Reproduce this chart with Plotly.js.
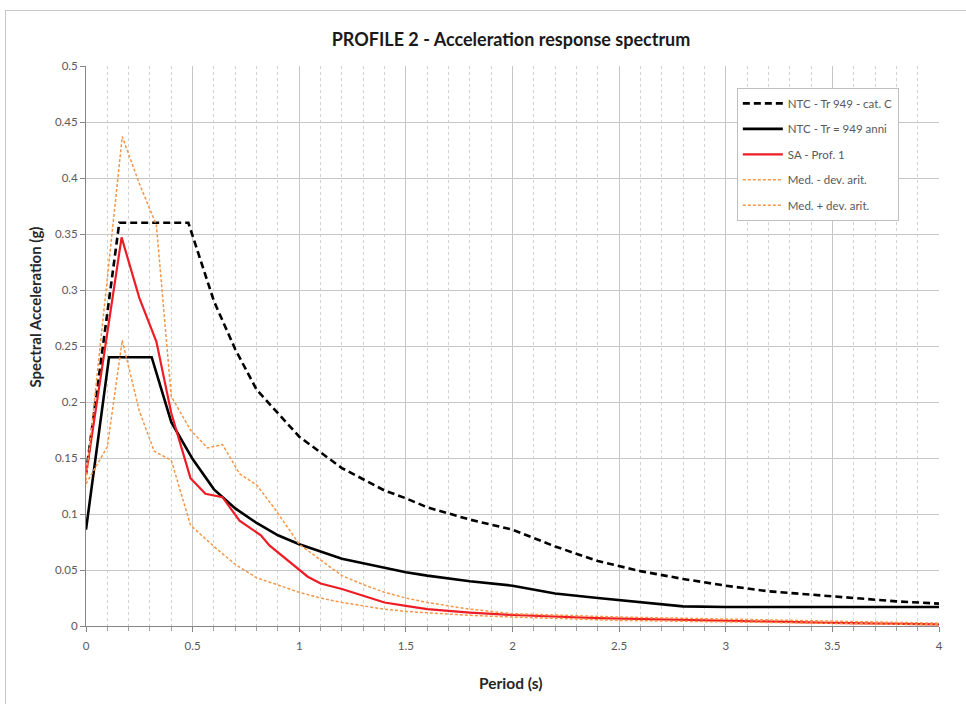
<!DOCTYPE html>
<html>
<head>
<meta charset="utf-8">
<script src="https://cdn.plot.ly/plotly-3.0.1.min.js"></script>
<style>
  html, body { margin:0; padding:0; background:#fff; }
  #chart { position:absolute; left:0; top:0; width:966px; height:704px; }
  #frame { position:absolute; left:5px; top:10px; width:1000px; height:800px; border:1px solid #c8c8c8; pointer-events:none; }
</style>
</head>
<body>
<div id="chart"></div>
<div id="frame"></div>
<script>
// ---- data ----
const ntcCatC_T = [0, 0.156, 0.48, 0.6, 0.7, 0.8, 0.9, 1.0, 1.2, 1.4, 1.5, 1.6, 1.8, 2.0, 2.2, 2.4, 2.6, 2.8, 3.0, 3.2, 3.4, 3.6, 3.8, 4.0];
const ntcCatC_Sa = [0.136, 0.36, 0.36, 0.29, 0.247, 0.211, 0.19, 0.169, 0.141, 0.121, 0.114, 0.106, 0.095, 0.086, 0.071, 0.058, 0.049, 0.042, 0.036, 0.031, 0.028, 0.025, 0.022, 0.020];

const ntc949_T = [0, 0.108, 0.308, 0.4, 0.5, 0.6, 0.7, 0.8, 0.9, 1.0, 1.2, 1.4, 1.5, 1.6, 1.8, 2.0, 2.2, 2.4, 2.6, 2.8, 3.0, 3.5, 4.0];
const ntc949_Sa = [0.086, 0.24, 0.24, 0.182, 0.149, 0.122, 0.105, 0.092, 0.081, 0.073, 0.060, 0.052, 0.048, 0.045, 0.040, 0.036, 0.029, 0.025, 0.021, 0.0175, 0.017, 0.017, 0.017];

const saProf1_T = [0, 0.167, 0.25, 0.33, 0.4, 0.49, 0.56, 0.64, 0.72, 0.82, 0.86, 0.93, 1.0, 1.04, 1.1, 1.2, 1.3, 1.4, 1.5, 1.6, 1.8, 2.0, 2.4, 3.0, 3.5, 4.0];
const saProf1_Sa = [0.135, 0.347, 0.293, 0.254, 0.19, 0.132, 0.118, 0.115, 0.094, 0.081, 0.072, 0.061, 0.05, 0.044, 0.038, 0.033, 0.027, 0.021, 0.018, 0.015, 0.012, 0.0098, 0.007, 0.0045, 0.0028, 0.0015];

const medMinus_T = [0, 0.1, 0.17, 0.25, 0.32, 0.4, 0.49, 0.6, 0.7, 0.8, 0.88, 1.0, 1.1, 1.2, 1.4, 1.5, 1.8, 2.0, 2.5, 3.0, 3.5, 4.0];
const medMinus_Sa = [0.127, 0.16, 0.255, 0.192, 0.156, 0.148, 0.09, 0.071, 0.055, 0.043, 0.038, 0.030, 0.025, 0.021, 0.015, 0.013, 0.0095, 0.008, 0.005, 0.0035, 0.002, 0.001];

const medPlus_T = [0, 0.17, 0.25, 0.33, 0.4, 0.49, 0.57, 0.64, 0.72, 0.8, 0.88, 1.0, 1.1, 1.2, 1.3, 1.4, 1.5, 1.6, 1.8, 2.0, 2.5, 3.0, 3.5, 4.0];
const medPlus_Sa = [0.13, 0.437, 0.395, 0.358, 0.205, 0.175, 0.159, 0.162, 0.136, 0.126, 0.106, 0.073, 0.059, 0.045, 0.037, 0.030, 0.025, 0.021, 0.015, 0.011, 0.008, 0.006, 0.004, 0.0025];

const seriesNames = ["NTC - Tr 949 - cat. C", "NTC - Tr = 949 anni", "SA - Prof. 1", "Med. - dev. arit.", "Med. + dev. arit."];
const chartTitle = "PROFILE 2 - Acceleration response spectrum";
const xTitle = "Period (s)";
const yTitle = "Spectral Acceleration (g)";

const FONT = "Lato, 'Open Sans', sans-serif";
const orange = "#F79646";

const traces = [
  {x: ntcCatC_T, y: ntcCatC_Sa, name: seriesNames[0], line: {color:"#000000", width:2.6, dash:"7px,4px"}},
  {x: ntc949_T, y: ntc949_Sa, name: seriesNames[1], line: {color:"#000000", width:2.6}},
  {x: saProf1_T, y: saProf1_Sa, name: seriesNames[2], line: {color:"#EE1C25", width:2.2}},
  {x: medMinus_T, y: medMinus_Sa, name: seriesNames[3], line: {color:orange, width:1.5, dash:"3px,2px"}},
  {x: medPlus_T, y: medPlus_Sa, name: seriesNames[4], line: {color:orange, width:1.5, dash:"3px,2px"}}
].map((t, i) => Object.assign(t, {type:"scatter", mode:"lines", legendgroup:"g"+i}));

const layout = {
  width: 966, height: 704,
  margin: {l:86, r:27, t:66, b:78},
  paper_bgcolor: "rgba(0,0,0,0)",
  plot_bgcolor: "#ffffff",
  font: {family: FONT, color:"#595959", size:11},
  title: {text: "<b>" + chartTitle + "</b>", font:{family:FONT, size:18, color:"#1a1a1a"}, x:0.529, xanchor:"center", y:0.943, yanchor:"middle"},
  showlegend: true,
  legend: {x:0.763, y:0.961, xanchor:"left", yanchor:"top", bgcolor:"#ffffff", bordercolor:"#bfbfbf", borderwidth:1,
           font:{family:FONT, size:11.5, color:"#595959"}, traceorder:"grouped", tracegroupgap:6.5, itemwidth:40},
  xaxis: {
    range:[0,4], dtick:0.5, tick0:0, showgrid:true, gridcolor:"#c6c6c6", gridwidth:1,
    zeroline:false, showline:true, linecolor:"#868686", linewidth:1,
    ticks:"outside", ticklen:5, tickcolor:"#868686", ticklabelstandoff:4,
    tickfont:{family:FONT, size:11.5, color:"#595959"},
    minor:{dtick:0.1, showgrid:true, gridcolor:"#d2d2d2", griddash:"dot", gridwidth:1, ticks:"outside", ticklen:4, tickcolor:"#a0a0a0"},
    fixedrange:true
  },
  yaxis: {
    range:[0,0.5], dtick:0.05, tick0:0, showgrid:true, gridcolor:"#c6c6c6", gridwidth:1,
    zeroline:false, showline:true, linecolor:"#868686", linewidth:1,
    ticks:"outside", ticklen:5, tickcolor:"#868686",
    tickfont:{family:FONT, size:11.5, color:"#595959"},
    fixedrange:true
  },
  annotations: [
    {text:"<b>" + xTitle + "</b>", xref:"paper", yref:"paper", x:0.498, y:-0.102, xanchor:"center", yanchor:"middle",
     showarrow:false, font:{family:FONT, size:15.5, color:"#262626"}},
    {text:"<b>" + yTitle + "</b>", xref:"paper", yref:"paper", x:-0.06, y:0.57, xanchor:"center", yanchor:"middle",
     textangle:-90, showarrow:false, font:{family:FONT, size:15, color:"#262626"}}
  ]
};

Plotly.newPlot("chart", traces, layout, {displayModeBar:false, staticPlot:true});
</script>
</body>
</html>
